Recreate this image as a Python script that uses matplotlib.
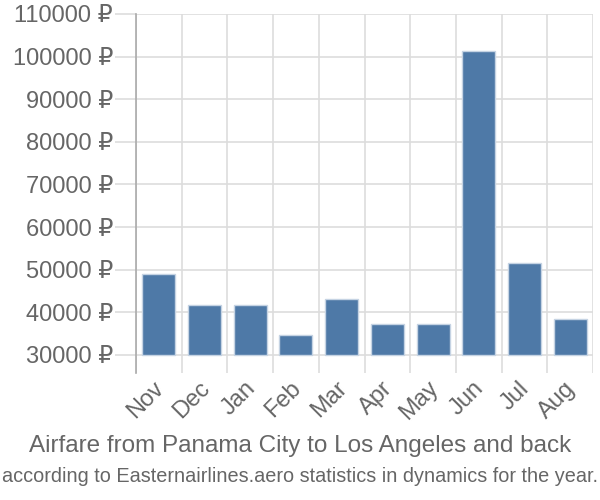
import matplotlib
matplotlib.use("Agg")
import matplotlib.pyplot as plt
import matplotlib.transforms as mtransforms
from matplotlib.ticker import FixedLocator, NullFormatter

months = ["Nov", "Dec", "Jan", "Feb", "Mar", "Apr", "May", "Jun", "Jul", "Aug"]
prices = [49000, 41700, 41700, 34700, 43000, 37200, 37200, 101300, 51500, 38400]
yticks = [30000, 40000, 50000, 60000, 70000, 80000, 90000, 100000, 110000]
ytick_labels = [f"{v} ₽" for v in yticks]
title = "Airfare from Panama City to Los Angeles and back"
subtitle = "according to Easternairlines.aero statistics in dynamics for the year."

FAM = ["Liberation Sans", "DejaVu Sans"]
plt.rcParams["font.family"] = FAM

fig = plt.figure(figsize=(6, 5), dpi=100)
ax = fig.add_axes([136/600, 1-373/500, (593-136)/600, (373-14)/500])

base = 30000
x = list(range(len(months)))
ax.bar(x, [p - base for p in prices], bottom=base, width=0.72,
       color="#4e79a7", edgecolor="#c5d3e3", linewidth=1, zorder=3)

ax.set_xlim(-0.5, len(months) - 0.5)
ax.set_ylim(25730, 110000)

ax.set_yticks(yticks)
ax.set_yticklabels(ytick_labels)
ax.yaxis.grid(True, color="#dddddd", linewidth=1.2, zorder=0)
ax.tick_params(axis="y", length=15, width=1.2, color="#dddddd", pad=1.5,
               labelsize=17, labelcolor="#666666")

bounds = [i - 0.5 for i in range(len(months) + 1)]
ax.xaxis.set_minor_locator(FixedLocator(bounds))
ax.xaxis.set_minor_formatter(NullFormatter())
ax.xaxis.grid(True, which="minor", color="#dddddd", linewidth=1.2, zorder=0)
ax.set_xticks(x)
ax.set_xticklabels(months, rotation=45, ha="right", va="top", rotation_mode="anchor")
ax.tick_params(axis="x", which="major", length=0, pad=3, labelsize=17, labelcolor="#666666")
ax.tick_params(axis="x", which="minor", length=0)
offset = mtransforms.ScaledTranslation(-6/100, 0, fig.dpi_scale_trans)
for lbl in ax.get_xticklabels():
    lbl.set_transform(lbl.get_transform() + offset)

for s in ["top", "right", "bottom"]:
    ax.spines[s].set_visible(False)
ax.spines["left"].set_color("#aaaaaa")
ax.spines["left"].set_linewidth(1.2)

fig.text(0.5, 1-446/500, title, ha="center", va="center", fontsize=17.5, color="#666666")
fig.text(0.5, 1-476/500, subtitle, ha="center", va="center", fontsize=14.3, color="#666666")

fig.savefig("out.png", dpi=100)
